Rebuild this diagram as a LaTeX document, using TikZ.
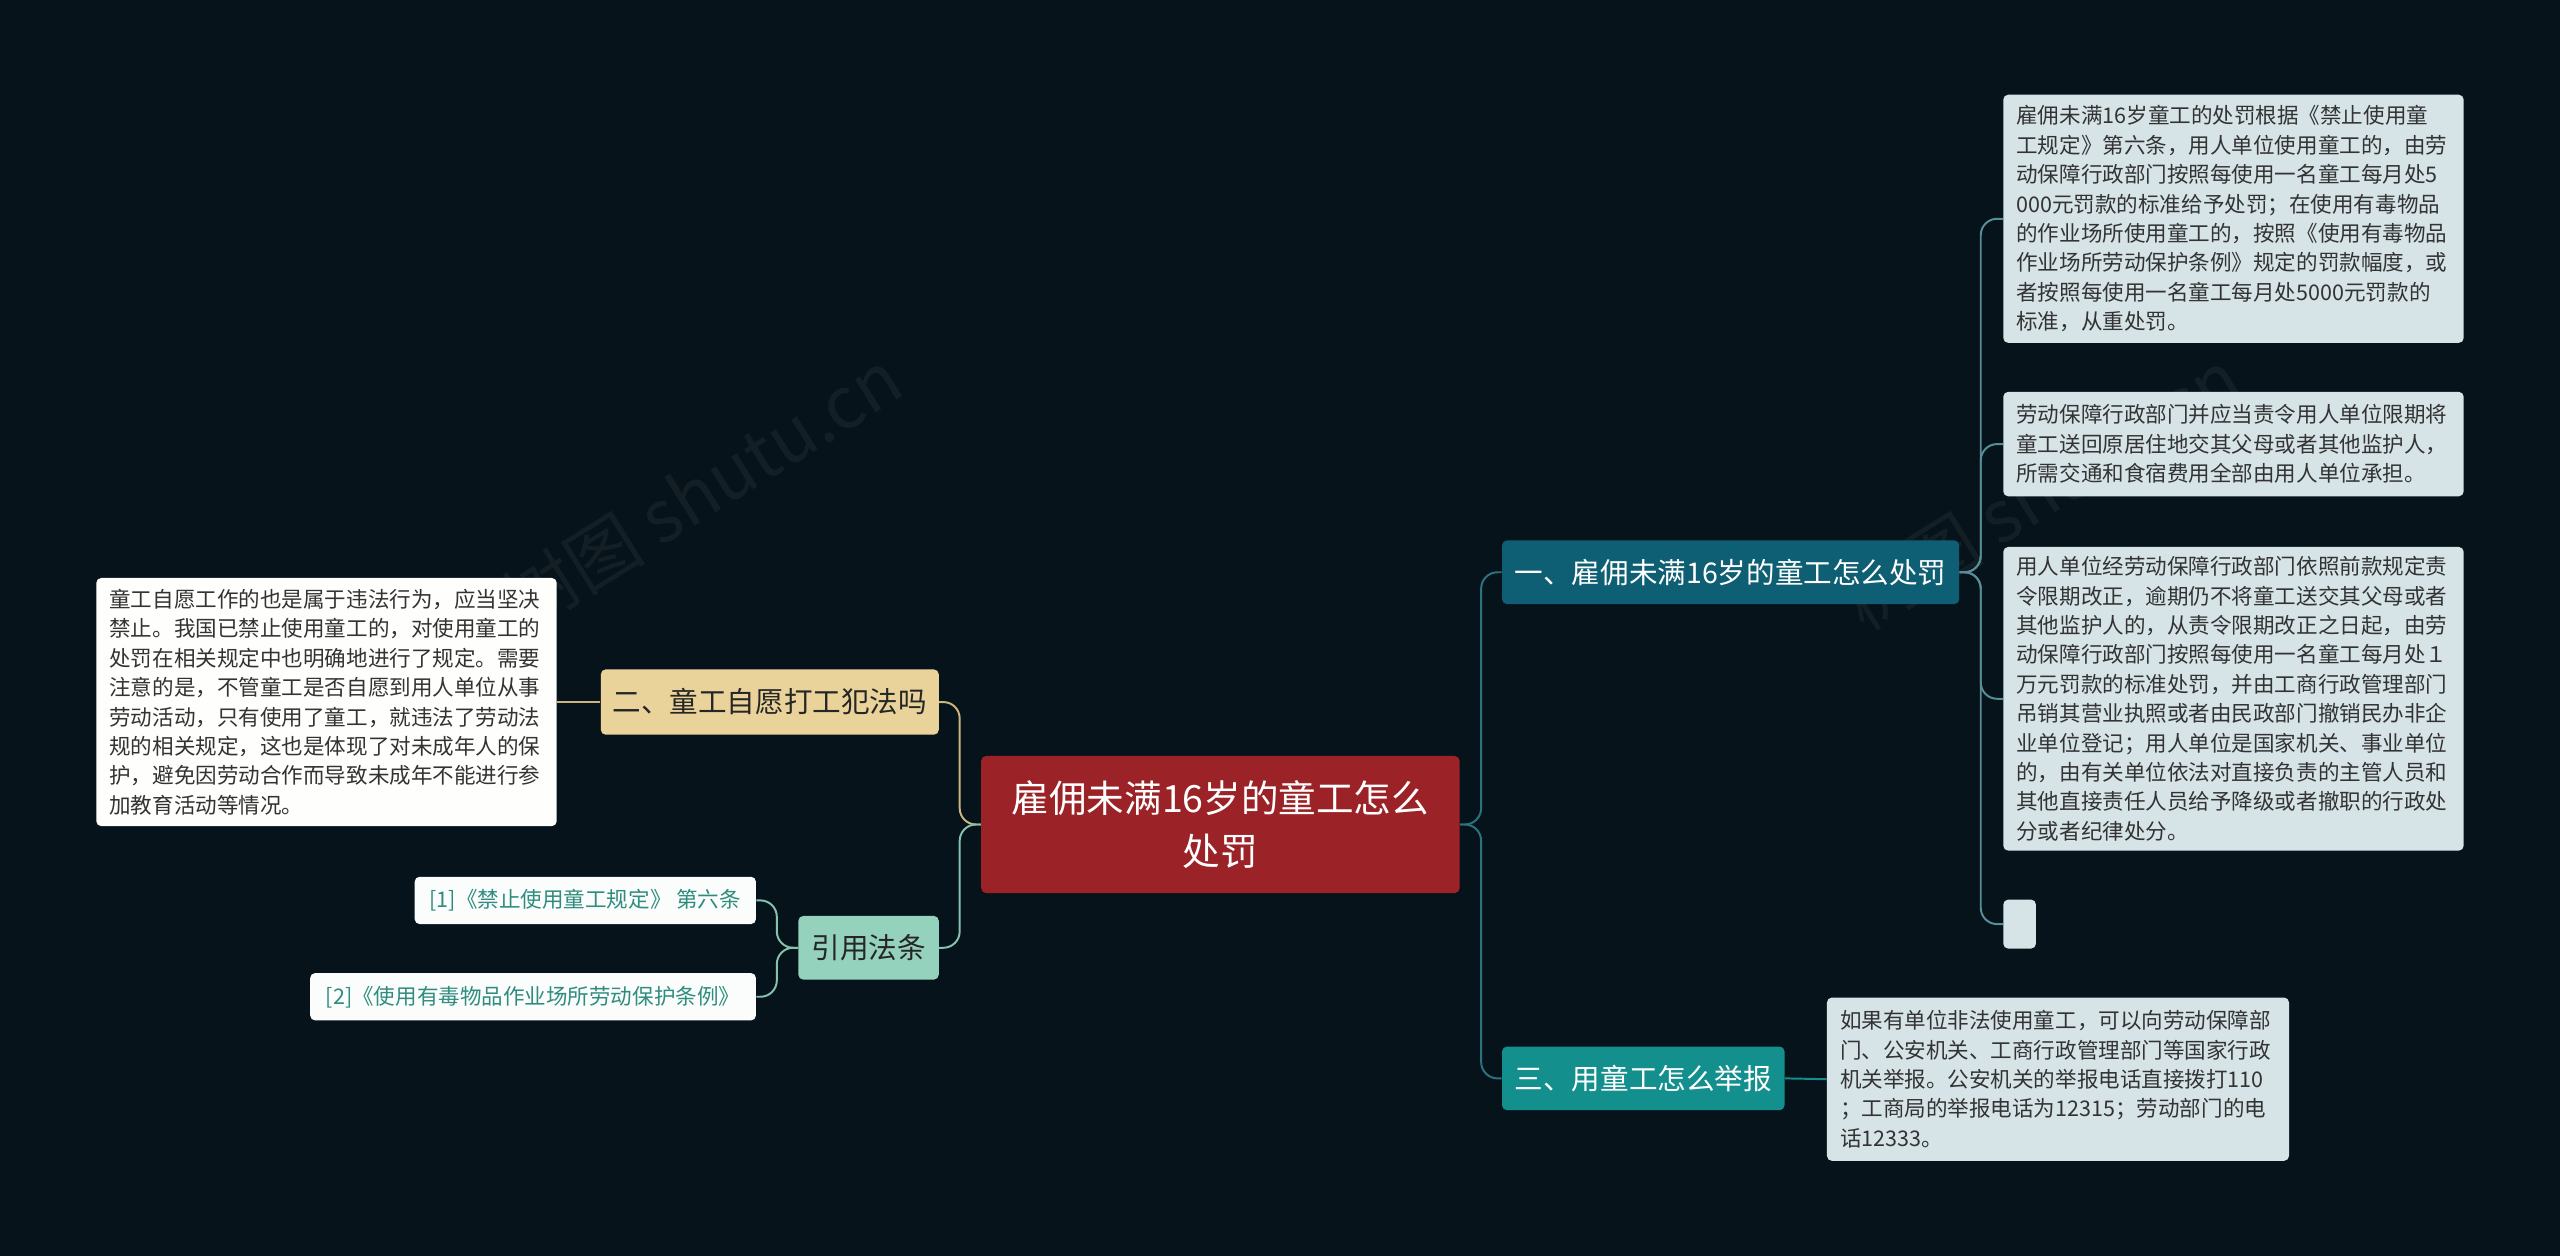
\documentclass[tikz,border=0pt]{standalone}
\usepackage{fontspec}
\setmainfont{Noto Sans CJK SC}
\begin{document}
\begin{tikzpicture}[x=1pt,y=-1pt,
 box/.style={rounded corners=3pt,inner sep=0pt,align=center},
 leaf/.style={rounded corners=3pt,inner xsep=8pt,inner ysep=0pt,fill=leafc,text=black!80,align=left,font=\fontsize{13.2}{18}\selectfont},
 lr/.style={draw=lineR,line width=1.2pt,rounded corners=10pt},
 ll/.style={draw=lineL,line width=1.2pt,rounded corners=10pt}]
\definecolor{bg}{HTML}{07131A}
\definecolor{cen}{HTML}{9B2226}
\definecolor{ra}{HTML}{0E5F73}
\definecolor{rb}{HTML}{138F8D}
\definecolor{la}{HTML}{E9D39A}
\definecolor{lb}{HTML}{94D2BD}
\definecolor{leafc}{HTML}{D6E4E8}
\definecolor{lineR}{HTML}{2C7380}
\definecolor{lineL}{HTML}{C9B77F}
\definecolor{lineM}{HTML}{86C2AE}
\definecolor{refc}{HTML}{2F8C7E}
\fill[bg] (0,0) rectangle (1568,769);
\useasboundingbox (0,0) rectangle (1568,769);
\node[rotate=32,text=white,opacity=0.05,font=\fontsize{44}{44}\selectfont] (wm1) at (430,300) {树图 shutu.cn};
\node[rotate=32,text=white,opacity=0.05,font=\fontsize{44}{44}\selectfont] (wm2) at (1250,300) {树图 shutu.cn};
% main nodes
\node[box,fill=cen,text=white,minimum width=293,minimum height=84,font=\fontsize{23}{32}\selectfont] (c) at (747.5,505) {雇佣未满16岁的童工怎么\\处罚};
\node[box,fill=ra,text=white,minimum width=280,minimum height=39,font=\fontsize{17.5}{20}\selectfont] (r1) at (1060,350.5) {一、雇佣未满16岁的童工怎么处罚};
\node[box,fill=rb,text=white,minimum width=173,minimum height=39,font=\fontsize{17.5}{20}\selectfont] (r2) at (1006.5,660.5) {三、用童工怎么举报};
\node[box,fill=la,text=black!85,minimum width=207,minimum height=40,font=\fontsize{17.5}{20}\selectfont] (l1) at (471.5,430) {二、童工自愿打工犯法吗};
\node[box,fill=lb,text=black!85,minimum width=86,minimum height=39,font=\fontsize{17.5}{20}\selectfont] (l2) at (532,580.5) {引用法条};
% leaves
\node[leaf,text width=266,minimum height=152] (a1) at (1368,134) {雇佣未满16岁童工的处罚根据《禁止使用童\\工规定》第六条，用人单位使用童工的，由劳\\动保障行政部门按照每使用一名童工每月处5\\000元罚款的标准给予处罚；在使用有毒物品\\的作业场所使用童工的，按照《使用有毒物品\\作业场所劳动保护条例》规定的罚款幅度，或\\者按照每使用一名童工每月处5000元罚款的\\标准，从重处罚。};
\node[leaf,text width=266,minimum height=64] (a2) at (1368,272) {劳动保障行政部门并应当责令用人单位限期将\\童工送回原居住地交其父母或者其他监护人，\\所需交通和食宿费用全部由用人单位承担。};
\node[leaf,text width=266,minimum height=186] (a3) at (1368,428) {用人单位经劳动保障行政部门依照前款规定责\\令限期改正，逾期仍不将童工送交其父母或者\\其他监护人的，从责令限期改正之日起，由劳\\动保障行政部门按照每使用一名童工每月处１\\万元罚款的标准处罚，并由工商行政管理部门\\吊销其营业执照或者由民政部门撤销民办非企\\业单位登记；用人单位是国家机关、事业单位\\的，由有关单位依法对直接负责的主管人员和\\其他直接责任人员给予降级或者撤职的行政处\\分或者纪律处分。};
\node[leaf,inner xsep=0pt,minimum width=20,minimum height=30] (a4) at (1237,566) {};
\node[leaf,text width=267,minimum height=100] (b1) at (1260.5,661) {如果有单位非法使用童工，可以向劳动保障部\\门、公安机关、工商行政管理部门等国家行政\\机关举报。公安机关的举报电话直接拨打110\\；工商局的举报电话为12315；劳动部门的电\\话12333。};
\node[leaf,fill=white!97!la,text width=266,minimum height=152] (d1) at (200,430) {童工自愿工作的也是属于违法行为，应当坚决\\禁止。我国已禁止使用童工的，对使用童工的\\处罚在相关规定中也明确地进行了规定。需要\\注意的是，不管童工是否自愿到用人单位从事\\劳动活动，只有使用了童工，就违法了劳动法\\规的相关规定，这也是体现了对未成年人的保\\护，避免因劳动合作而导致未成年不能进行参\\加教育活动等情况。};
\node[leaf,inner xsep=0pt,fill=white!95!lb,text=refc,minimum width=209,minimum height=29,align=center] (e1) at (358.5,551.5) {[1]《禁止使用童工规定》 第六条};
\node[leaf,inner xsep=0pt,fill=white!95!lb,text=refc,minimum width=273,minimum height=29,align=center] (e2) at (326.5,610.5) {[2]《使用有毒物品作业场所劳动保护条例》};
% connectors
\draw[lr] (c.east) -- ++(13,0) |- (r1.west);
\draw[lr] (c.east) -- ++(13,0) |- (r2.west);
\draw[ll] (c.west) -- ++(-13,0) |- (l1.east);
\draw[ll,draw=lineM] (c.west) -- ++(-13,0) |- (l2.east);
\foreach \t in {a1,a2,a3,a4}{\draw[lr,draw=lineR!80!white] (r1.east) -- ++(13,0) |- (\t.west);}
\draw[lr,draw=rb] (r2.east) -- (b1.west);
\draw[ll] (l1.west) -- (d1.east);
\foreach \t in {e1,e2}{\draw[ll,draw=lineM] (l2.west) -- ++(-13,0) |- (\t.east);}
\end{tikzpicture}
\end{document}
